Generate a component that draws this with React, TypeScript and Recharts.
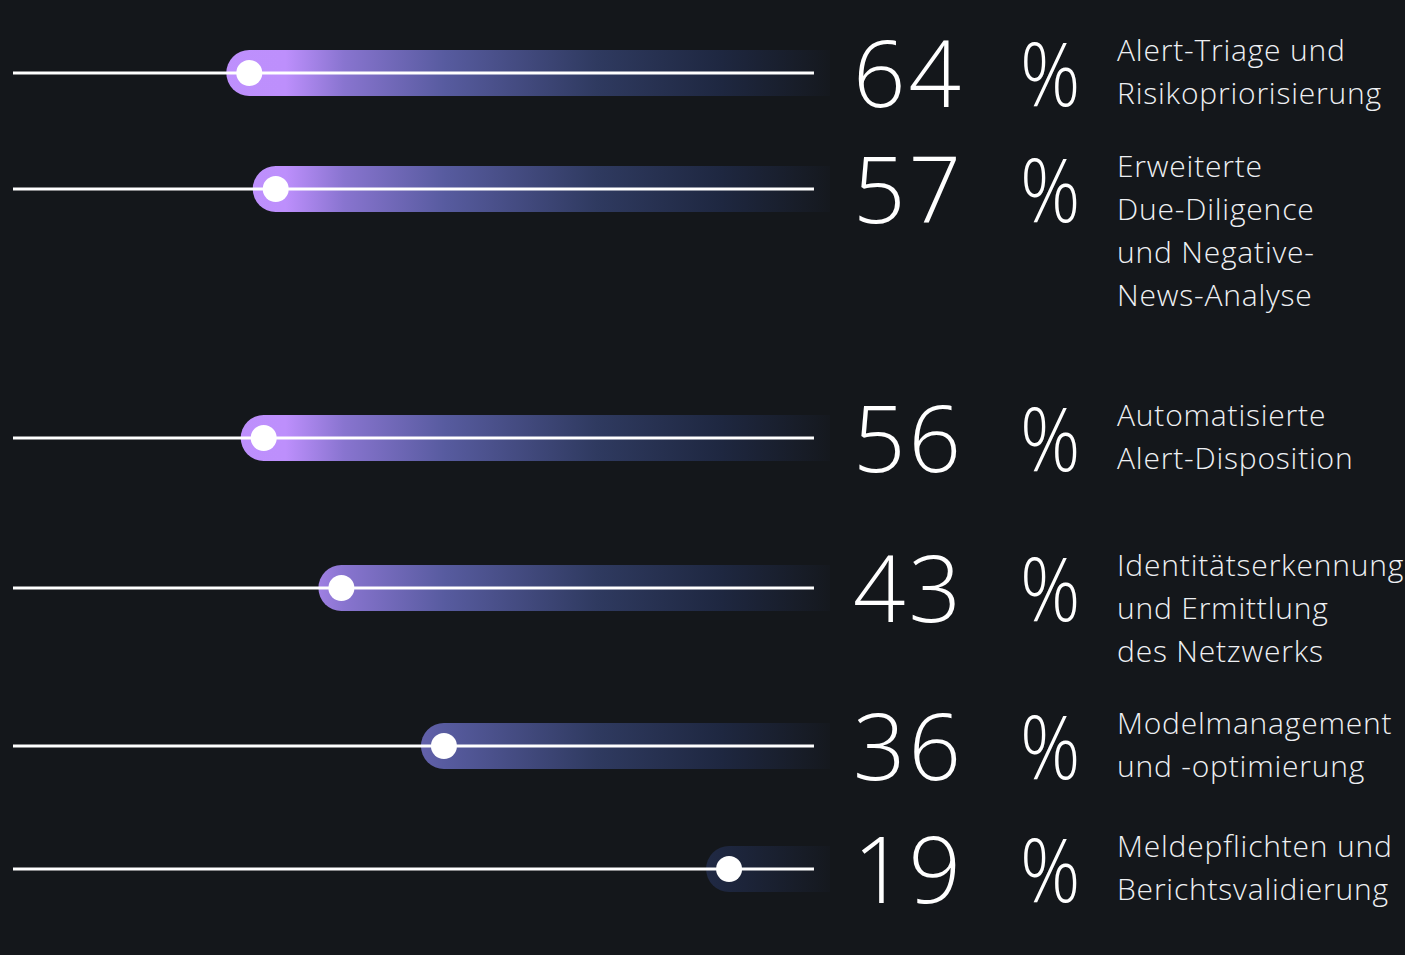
import React from 'react';
import {
  Bar,
  ComposedChart,
  ReferenceDot,
  ReferenceLine,
  XAxis,
  YAxis,
} from 'recharts';

// Anteil der Befragten je Einsatzbereich (in %)
const shares = [64, 57, 56, 43, 36, 19];

// Lage des Markers auf der Skala (0 = rechts, 100 = links), aus dem Bild gelesen
const markerPositions = [70.5, 67.2, 68.7, 59.0, 46.2, 10.6];

const categories = [
  'Alert-Triage und Risikopriorisierung',
  'Erweiterte Due-Diligence und Negative-News-Analyse',
  'Automatisierte Alert-Disposition',
  'Identitätserkennung und Ermittlung des Netzwerks',
  'Modelmanagement und -optimierung',
  'Meldepflichten und Berichtsvalidierung',
];

const labelLines = [
  ['Alert-Triage und', 'Risikopriorisierung'],
  ['Erweiterte', 'Due-Diligence', 'und Negative-', 'News-Analyse'],
  ['Automatisierte', 'Alert-Disposition'],
  ['Identitätserkennung', 'und Ermittlung', 'des Netzwerks'],
  ['Modelmanagement', 'und -optimierung'],
  ['Meldepflichten und', 'Berichtsvalidierung'],
];

// layout
const rowCenters = [73, 189, 438, 588, 746, 869];
const CHART_W = 845;
const CHART_H = 60;
const BG = '#14171b';
const FONT = '"Open Sans", "Noto Sans", sans-serif';

const PillShape = (props: any) => {
  const { x, y, width, height, fill } = props;
  const left = Math.min(x, x + width);
  const right = Math.max(x, x + width);
  const r = height / 2;
  const d = `M${left},${y} L${right},${y} L${right},${y + height} L${left},${y + height} A${r},${r} 0 0 1 ${left},${y} Z`;
  return <path d={d} fill={fill} />;
};

function Row({ index }: { index: number }) {
  const name = categories[index];
  const data = [{ name, span: [markerPositions[index], -2] }];
  const gid = `fade-${index}`;
  return (
    <ComposedChart
      width={CHART_W}
      height={CHART_H}
      data={data}
      layout='vertical'
      margin={{ top: 0, right: 15, bottom: 0, left: 13 }}
    >
      <defs>
        <linearGradient id={gid} gradientUnits='userSpaceOnUse' x1={0} y1={0} x2={840} y2={0}>
          <stop offset='0%' stopColor='#c192ff' />
          <stop offset='34%' stopColor='#bd8ffc' />
          <stop offset='41%' stopColor='#8874cf' />
          <stop offset='53%' stopColor='#575b9f' />
          <stop offset='71%' stopColor='#2f3a60' />
          <stop offset='86%' stopColor='#1e2740' />
          <stop offset='100%' stopColor={BG} />
        </linearGradient>
      </defs>
      <XAxis type='number' domain={[-2, 100]} reversed hide />
      <YAxis type='category' dataKey='name' hide />
      <Bar
        dataKey='span'
        barSize={46}
        fill={`url(#${gid})`}
        shape={PillShape}
        isAnimationActive={false}
      />
      <ReferenceLine
        segment={[
          { x: 0, y: name },
          { x: 100, y: name },
        ]}
        stroke='#ffffff'
        strokeWidth={3}
      />
      <ReferenceDot
        x={markerPositions[index]}
        y={name}
        r={13}
        fill='#ffffff'
        stroke='none'
      />
    </ComposedChart>
  );
}

export default function App() {
  return (
    <div
      style={{
        position: 'absolute',
        left: 0,
        top: 0,
        width: 1405,
        height: 955,
        background: BG,
        overflow: 'hidden',
        fontFamily: FONT,
        color: '#ffffff',
      }}
    >
      {shares.map((share, i) => {
        const cy = rowCenters[i];
        return (
          <React.Fragment key={categories[i]}>
            <div style={{ position: 'absolute', left: 0, top: cy - CHART_H / 2 }}>
              <Row index={i} />
            </div>
            <div
              style={{
                position: 'absolute',
                left: 853,
                top: cy - 56,
                height: 110,
                lineHeight: '110px',
                fontSize: 92,
                fontWeight: 300,
                letterSpacing: 3,
              }}
            >
              {share}
            </div>
            <div
              style={{
                position: 'absolute',
                left: 1020,
                top: cy - 56,
                height: 110,
                lineHeight: '110px',
                fontSize: 88,
                fontWeight: 300,
                transform: 'scaleX(0.85)',
                transformOrigin: 'left center',
              }}
            >
              %
            </div>
            <div
              style={{
                position: 'absolute',
                left: 1117,
                top: cy - 45,
                fontSize: 30,
                lineHeight: '43px',
                fontWeight: 300,
                letterSpacing: 0.8,
                whiteSpace: 'nowrap',
                color: '#eef0f3',
              }}
            >
              {labelLines[i].map((line) => (
                <div key={line}>{line}</div>
              ))}
            </div>
          </React.Fragment>
        );
      })}
    </div>
  );
}
